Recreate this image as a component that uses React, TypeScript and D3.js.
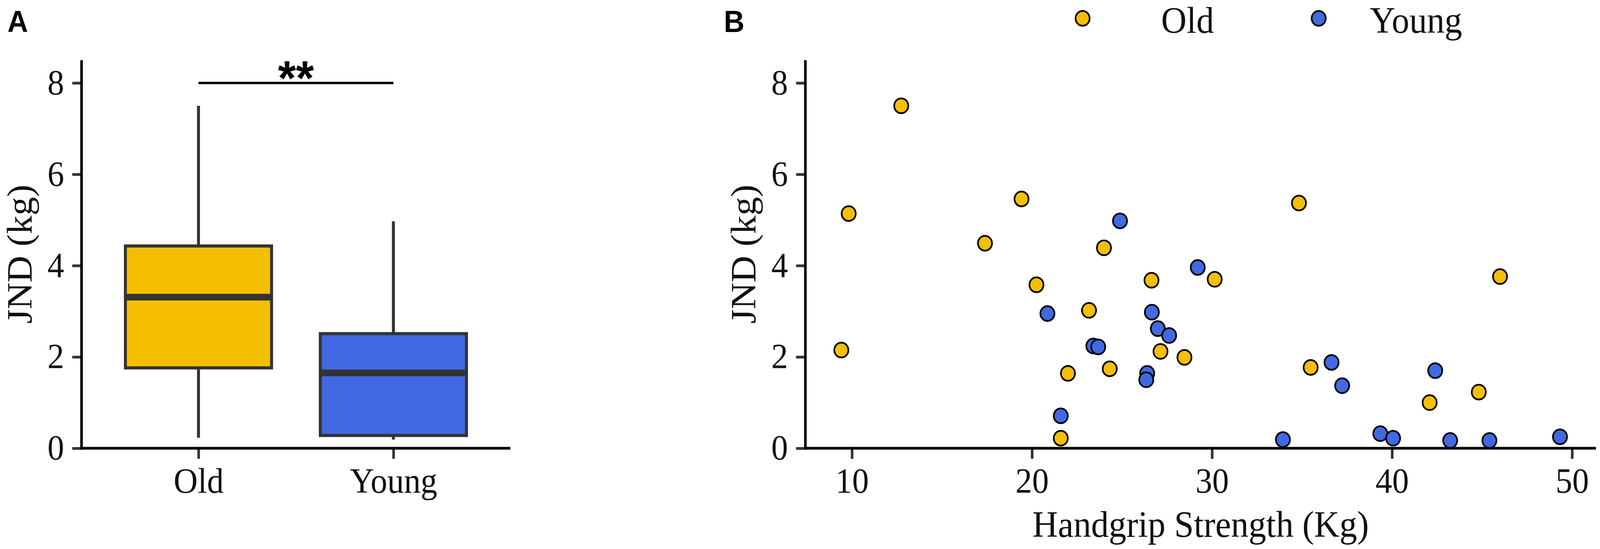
import * as d3 from "d3";
import {useEffect, useRef} from "react";

// panel A: box statistics per group
const groups = ["Old", "Young"];
const lowerWhisker = [0.23, 0.19];
const q1 = [1.76, 0.28];
const median = [3.31, 1.65];
const q3 = [4.43, 2.51];
const upperWhisker = [7.5, 4.97];
const groupColors = ["#F5BF00", "#4169E1"];

// panel B: handgrip strength (Kg) vs JND (kg)
const oldGrip = [12.74, 9.82, 9.41, 19.42, 17.39, 24.0, 20.25, 23.17, 26.64, 30.15, 27.14, 28.47, 22.0, 24.32, 21.6, 34.83, 46.0, 35.48, 44.82, 42.09];
const oldJnd = [7.5, 5.14, 2.15, 5.46, 4.49, 4.39, 3.58, 3.02, 3.68, 3.7, 2.12, 1.99, 1.64, 1.74, 0.22, 5.37, 3.76, 1.77, 1.23, 1.0];
const youngGrip = [24.89, 29.21, 20.86, 26.66, 26.99, 27.62, 23.41, 23.68, 26.4, 26.35, 21.6, 33.94, 36.64, 37.23, 42.4, 39.35, 40.06, 43.23, 45.41, 49.33];
const youngJnd = [4.98, 3.96, 2.95, 2.98, 2.62, 2.47, 2.24, 2.22, 1.64, 1.5, 0.71, 0.19, 1.88, 1.37, 1.7, 0.32, 0.22, 0.17, 0.17, 0.25];

const yTicks = [0, 2, 4, 6, 8];
const xTicks = [10, 20, 30, 40, 50];
const yMax = 8.5;

const W = 4317;
const H = 1406;
const plotTop = 154;
const plotBottom = 1148;
const serif = "'Liberation Serif', 'Times New Roman', serif";
const sans = "'Liberation Sans', Arial, sans-serif";

export default function App() {
    const ref = useRef<SVGSVGElement>(null);

    useEffect(() => {
        const svg = d3.select(ref.current).html("");
        svg.append("rect").attr("width", W).attr("height", H).attr("fill", "#fff");

        const y = d3.scaleLinear().domain([0, yMax]).range([plotBottom, plotTop]);

        const styleAxis = (g: any) => {
            g.select(".domain").remove();
            g.selectAll(".tick line").attr("stroke", "#333").attr("stroke-width", 7);
            g.selectAll(".tick text")
                .attr("font-family", serif)
                .attr("font-size", 90)
                .attr("fill", "#111");
        };

        const drawAxes = (x: any, left: number, right: number, xTitle?: string) => {
            svg.append("g")
                .attr("transform", `translate(${left},0)`)
                .call(d3.axisLeft(y).tickValues(yTicks).tickSize(25).tickPadding(22))
                .call(styleAxis);
            const xAxis = typeof x.step === "function"
                ? d3.axisBottom(x)
                : d3.axisBottom(x).tickValues(xTicks);
            svg.append("g")
                .attr("transform", `translate(0,${plotBottom})`)
                .call(xAxis.tickSize(27).tickPadding(23))
                .call(styleAxis);
            svg.append("path")
                .attr("d", `M${left},${plotTop}V${plotBottom + 3.5}M${left - 3.5},${plotBottom}H${right}`)
                .attr("stroke", "#000")
                .attr("stroke-width", 7)
                .attr("fill", "none");
            svg.append("text")
                .attr("transform", `translate(${left - 135},${(plotTop + plotBottom) / 2}) rotate(-90)`)
                .attr("text-anchor", "middle")
                .attr("font-family", serif)
                .attr("font-size", 95)
                .attr("fill", "#111")
                .text("JND (kg)");
            if (xTitle) {
                svg.append("text")
                    .attr("x", (left + right) / 2)
                    .attr("y", 1375)
                    .attr("text-anchor", "middle")
                    .attr("font-family", serif)
                    .attr("font-size", 95)
                    .attr("fill", "#111")
                    .text(xTitle);
            }
        };

        // ---------- panel A ----------
        const aLeft = 220, aRight = 1377;
        const xA = d3.scalePoint<string>().domain(groups).range([aLeft, aRight]).padding(0.6);
        const bw = xA.step() * 0.75;

        drawAxes(xA, aLeft, aRight);

        groups.forEach((g, i) => {
            const cx = xA(g)!;
            svg.append("line")
                .attr("x1", cx).attr("x2", cx)
                .attr("y1", y(q3[i])).attr("y2", y(upperWhisker[i]))
                .attr("stroke", "#333").attr("stroke-width", 8);
            svg.append("line")
                .attr("x1", cx).attr("x2", cx)
                .attr("y1", y(q1[i])).attr("y2", y(lowerWhisker[i]))
                .attr("stroke", "#333").attr("stroke-width", 8);
            svg.append("rect")
                .attr("x", cx - bw / 2)
                .attr("y", y(q3[i]))
                .attr("width", bw)
                .attr("height", y(q1[i]) - y(q3[i]))
                .attr("fill", groupColors[i])
                .attr("stroke", "#333")
                .attr("stroke-width", 8);
            svg.append("line")
                .attr("x1", cx - bw / 2).attr("x2", cx + bw / 2)
                .attr("y1", y(median[i])).attr("y2", y(median[i]))
                .attr("stroke", "#333").attr("stroke-width", 17);
        });

        // significance bracket
        svg.append("line")
            .attr("x1", xA("Old")!).attr("x2", xA("Young")!)
            .attr("y1", y(8)).attr("y2", y(8))
            .attr("stroke", "#000").attr("stroke-width", 6);
        svg.append("text")
            .attr("x", (xA("Old")! + xA("Young")!) / 2)
            .attr("y", 243)
            .attr("text-anchor", "middle")
            .attr("font-family", sans)
            .attr("font-weight", "bold")
            .attr("font-size", 125)
            .text("**");

        // ---------- panel B ----------
        const bLeft = 2173, bRight = 4306;
        const allGrip = oldGrip.concat(youngGrip);
        const [gMin, gMax] = d3.extent(allGrip) as [number, number];
        const pad = (gMax - gMin) * 0.05;
        const xB = d3.scaleLinear().domain([gMin - pad, gMax + pad]).range([bLeft, bRight]);

        drawAxes(xB, bLeft, bRight, "Handgrip Strength (Kg)");

        const series = [
            {name: "Old", xs: oldGrip, ys: oldJnd, color: groupColors[0]},
            {name: "Young", xs: youngGrip, ys: youngJnd, color: groupColors[1]},
        ];
        series.forEach(s => {
            svg.append("g")
                .selectAll("circle")
                .data(s.xs.map((v, i) => [v, s.ys[i]]))
                .join("circle")
                .attr("cx", d => xB(d[0]))
                .attr("cy", d => y(d[1]))
                .attr("r", 19)
                .attr("fill", s.color)
                .attr("stroke", "#000")
                .attr("stroke-width", 4.5);
        });

        // legend
        const legendMarks = [2921, 3558];
        const legendTexts = [3133, 3696];
        series.forEach((s, i) => {
            svg.append("circle")
                .attr("cx", legendMarks[i]).attr("cy", 47).attr("r", 19)
                .attr("fill", s.color).attr("stroke", "#000").attr("stroke-width", 4.5);
            svg.append("text")
                .attr("x", legendTexts[i]).attr("y", 84)
                .attr("font-family", serif).attr("font-size", 95).attr("fill", "#111")
                .text(s.name);
        });

        // panel letters
        [["A", 20], ["B", 1953]].forEach(([t, x]) => {
            svg.append("text")
                .attr("x", x as number).attr("y", 82)
                .attr("font-family", sans).attr("font-weight", "bold").attr("font-size", 77)
                .text(t as string);
        });
    }, []);

    // fill whatever viewport the page gets, keeping the 4317x1406 layout
    return (
        <svg ref={ref} viewBox={`0 0 ${W} ${H}`} preserveAspectRatio="none"
             style={{position: "fixed", left: 0, top: 0, width: "100%", height: "100%", display: "block"}}/>
    );
}
